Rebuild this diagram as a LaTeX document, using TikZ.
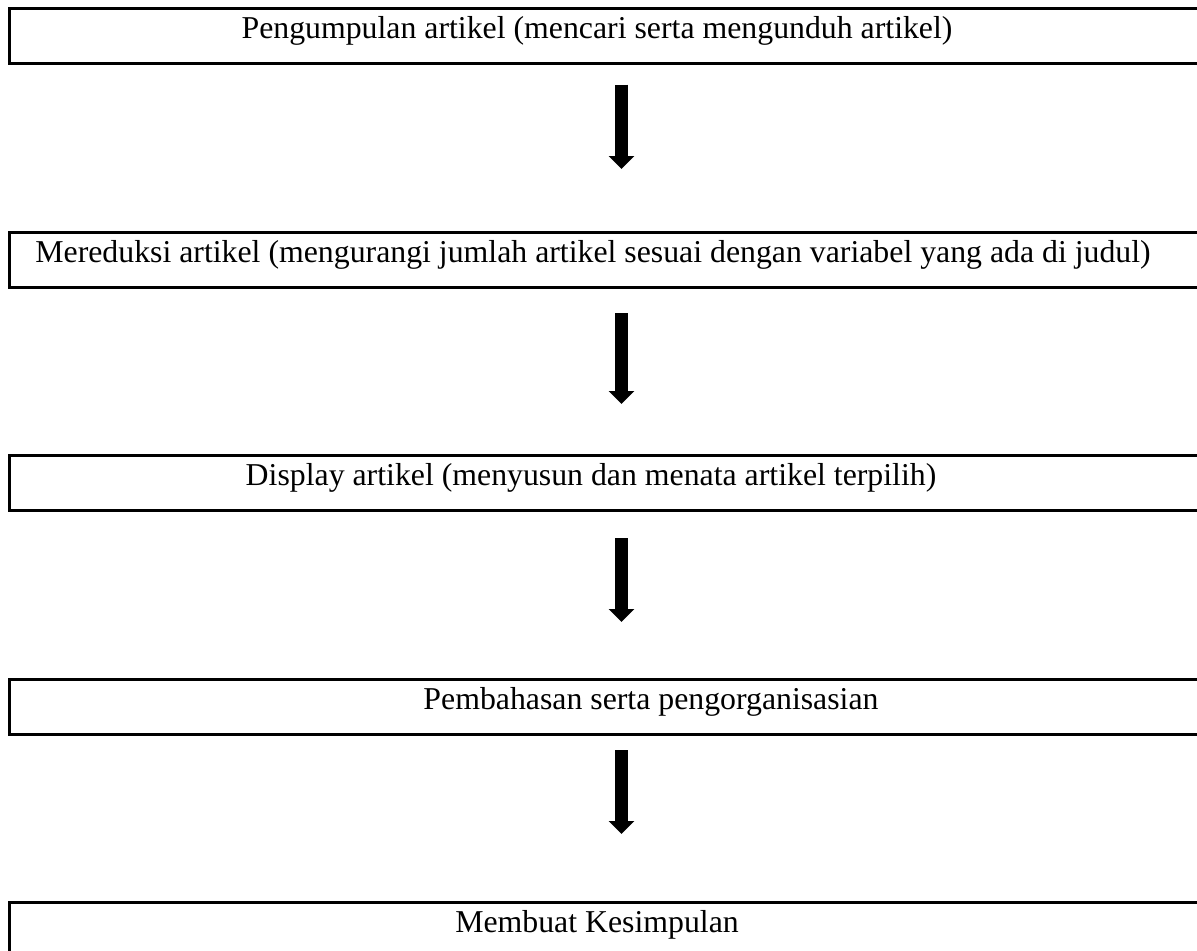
\documentclass[tikz,border=0pt]{standalone}
\usepackage{fontspec}
\setmainfont{Liberation Serif}
\usetikzlibrary{arrows.meta}

\begin{document}
\begin{tikzpicture}
[
	x=0.5pt,y=-0.5pt,
	stepbox/.style={draw,line width=1.5pt,inner sep=0pt,minimum width=612.5pt,minimum height=27.5pt},
	steptext/.style={inner sep=0pt,anchor=base,font=\fontsize{15.9}{19}\selectfont},
	flow/.style={line width=6.5pt,-{Triangle[width=12.5pt,length=6.5pt]}}
]

	\useasboundingbox (0,0) rectangle (1197,950);

	% boxes
	\node[stepbox] (b1) at (621.5,35.5) {};
	\node[stepbox] (b2) at (621.5,260) {};
	\node[stepbox] (b3) at (621.5,483) {};
	\node[stepbox] (b4) at (621.5,707) {};
	\node[stepbox] (b5) at (621.5,930) {};

	% texts
	\node[steptext] (t1) at (597,38.5) {Pengumpulan artikel (mencari serta mengunduh artikel)};
	\node[steptext] (t2) at (593,262) {Mereduksi artikel (mengurangi jumlah artikel sesuai dengan variabel yang ada di judul)};
	\node[steptext] (t3) at (591,485.5) {Display artikel (menyusun dan menata artikel terpilih)};
	\node[steptext] (t4) at (651,709.5) {Pembahasan serta pengorganisasian};
	\node[steptext] (t5) at (597,932.5) {Membuat Kesimpulan};

	% arrows
	\draw[flow,shorten <=10pt,shorten >=31pt] (b1) -- (b2);
	\draw[flow,shorten <=12pt,shorten >=25pt] (b2) -- (b3);
	\draw[flow,shorten <=13pt,shorten >=28pt] (b3) -- (b4);
	\draw[flow,shorten <=7pt,shorten >=33.5pt] (b4) -- (b5);

\end{tikzpicture}
\end{document}
